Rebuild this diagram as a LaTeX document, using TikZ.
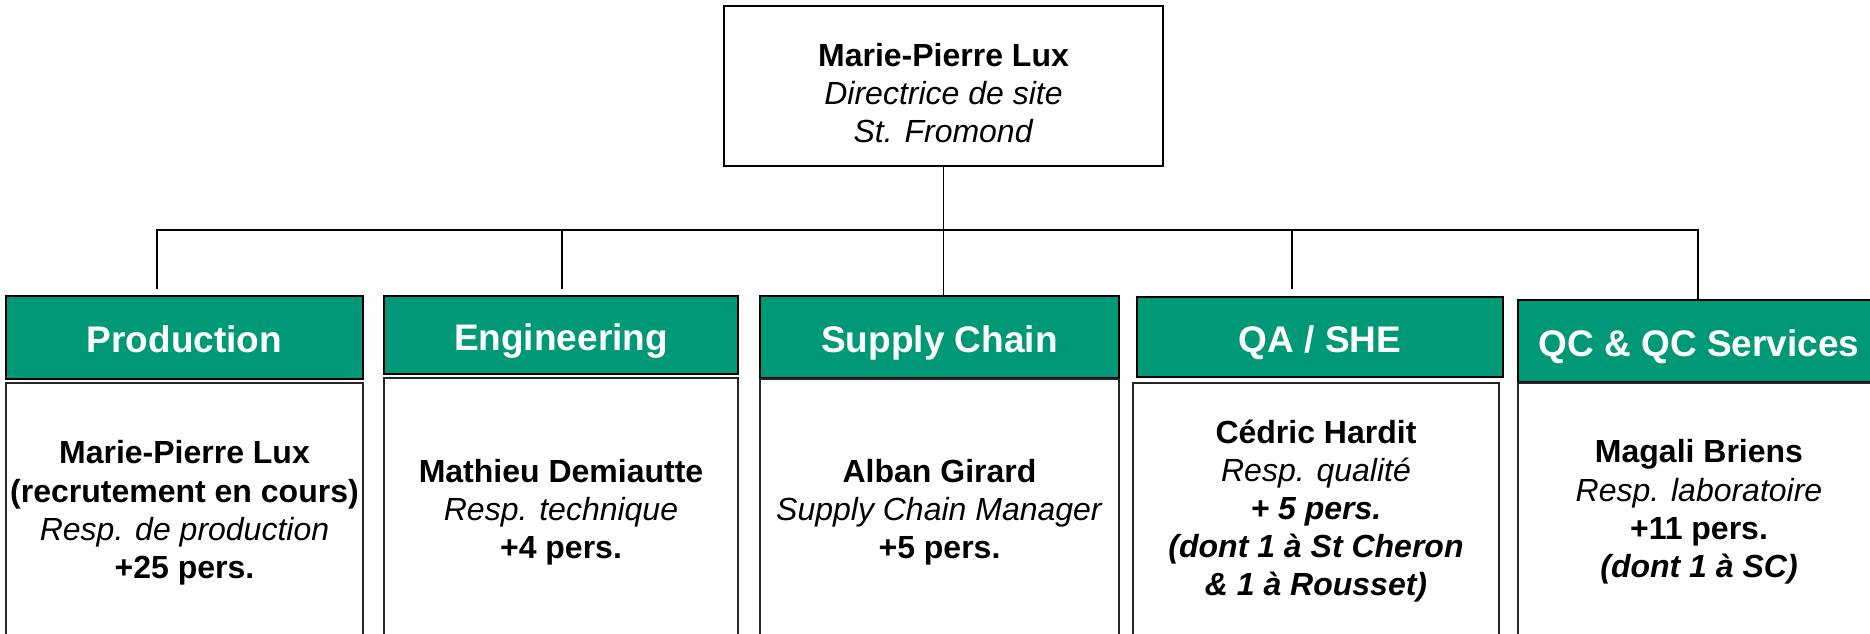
\documentclass[tikz,border=0pt]{standalone}
\usepackage{fontspec}
\setmainfont{Liberation Sans}
\usetikzlibrary{positioning}
\definecolor{orggreen}{RGB}{0,153,119}

\begin{document}
\begin{tikzpicture}[x=0.5pt, y=-0.5pt,
    every node/.style={outer sep=0pt},
    chief/.style={draw=black, line width=1.1pt, fill=white, align=center, font=\fontsize{16pt}{19pt}\selectfont, minimum width=219.5pt, minimum height=80pt},
    head/.style={draw=black, line width=1.1pt, fill=orggreen, text=white, font=\fontsize{18.5pt}{22pt}\selectfont\bfseries, inner sep=0pt, text height=18pt, text depth=3pt},
    body/.style={draw=black!85, line width=1.1pt, fill=white, align=center, font=\fontsize{16pt}{19.1pt}\selectfont, inner sep=0pt},
    link/.style={draw=black, line width=0.8pt}]
    \clip (0,0) rectangle (1870,633);

    \node[chief] (top) at (943.5,86) {\rule{0pt}{18.7pt}\textbf{Marie-Pierre Lux}\\ \textit{Directrice de site}\\ \textit{St. Fromond}};

    \node[head, minimum width=178.5pt, minimum height=41.5pt] (prod) at (184.5,337.5) {Production};
    \node[head, minimum width=177pt, minimum height=39pt] (eng) at (561,335) {Engineering};
    \node[head, minimum width=179.5pt, minimum height=41pt] (sc) at (939.5,337) {Supply Chain};
    \node[head, minimum width=183pt, minimum height=40pt] (qa) at (1320,337) {QA / SHE};
    \node[head, minimum width=181pt, minimum height=41pt] (qc) at (1699,341) {QC \& QC Services};

    \node[body, below=2pt of prod, minimum width=178.5pt, minimum height=130pt] (prod-body)
        {\textbf{Marie-Pierre Lux}\\ \textbf{(recrutement en cours)}\\ \textit{Resp. de production}\\ \textbf{+25 pers.}};
    \node[body, below=2pt of eng, minimum width=177pt, minimum height=134pt] (eng-body)
        {\textbf{Mathieu Demiautte}\\ \textit{Resp. technique}\\ \textbf{+4 pers.}};
    \node[body, below=0.5pt of sc, minimum width=179.5pt, minimum height=133pt] (sc-body)
        {\textbf{Alban Girard}\\ \textit{Supply Chain Manager}\\ \textbf{+5 pers.}};
    \node[body, below=3pt of qa, xshift=-2pt, minimum width=183pt, minimum height=128pt] (qa-body)
        {\textbf{Cédric Hardit}\\ \textit{Resp. qualité}\\ \textbf{\textit{+ 5 pers.}}\\ \textbf{\textit{(dont 1 à St Cheron}}\\ \textbf{\textit{\& 1 à Rousset)}}};
    \node[body, below=0.5pt of qc, minimum width=181pt, minimum height=129pt] (qc-body)
        {\textbf{Magali Briens}\\ \textit{Resp. laboratoire}\\ \textbf{+11 pers.}\\ \textbf{\textit{(dont 1 à SC)}}};

    \coordinate (bus-l) at (157,230);
    \coordinate (bus-r) at (1698,230);
    \coordinate (prod-in) at (157,289);
    \coordinate (eng-in) at (562,289);
    \coordinate (qa-in) at (1292,289);

    \draw[link] (top.south) -- (top.south |- sc.north);
    \draw[link] (prod-in) -- (bus-l) -- (bus-r) -- (bus-r |- qc.north);
    \draw[link] (eng-in) -- (eng-in |- bus-l);
    \draw[link] (qa-in) -- (qa-in |- bus-l);
\end{tikzpicture}
\end{document}
